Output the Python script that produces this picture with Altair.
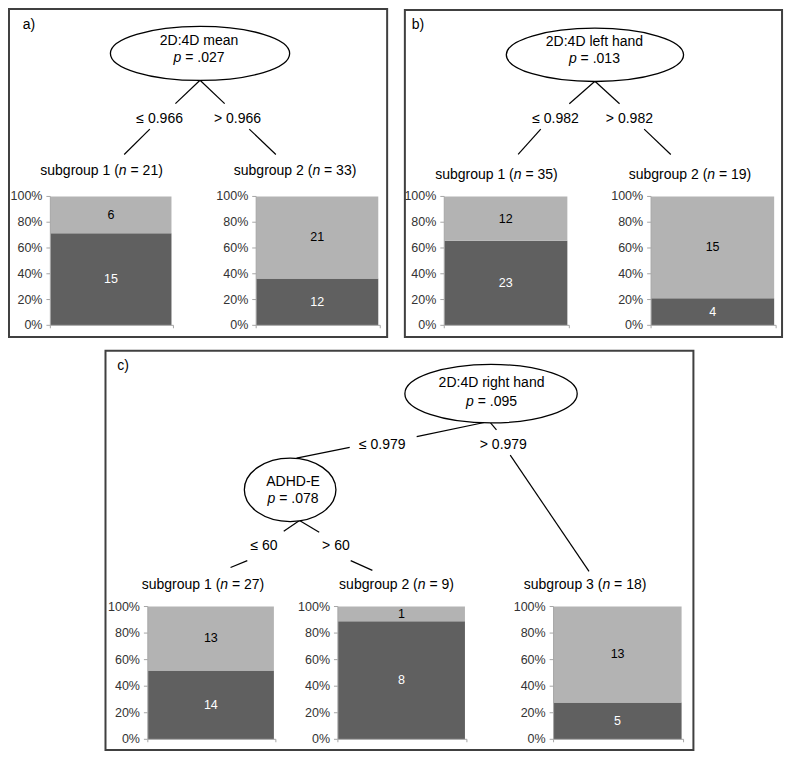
import altair as alt
import pandas as pd

# ---------------- data ----------------
panel_labels = ["a)", "b)", "c)"]

node_names = ["2D:4D mean", "2D:4D left hand", "2D:4D right hand", "ADHD-E"]
node_p_values = [".027", ".013", ".095", ".078"]

split_labels = ["≤ 0.966", "> 0.966", "≤ 0.982", "> 0.982",
                "≤ 0.979", "> 0.979", "≤ 60", "> 60"]

subgroup_names = ["subgroup 1", "subgroup 2", "subgroup 1", "subgroup 2",
                  "subgroup 1", "subgroup 2", "subgroup 3"]
subgroup_n = [21, 33, 35, 19, 27, 9, 18]
dark_counts = [15, 12, 23, 4, 14, 8, 5]
light_counts = [6, 21, 12, 15, 13, 1, 13]

tick_values = [0, 20, 40, 60, 80, 100]
tick_labels = ["0%", "20%", "40%", "60%", "80%", "100%"]

# ---------------- layout (figure pixel positions) ----------------
X_DOM = [2, 791]
Y_DOM = [2, 764]
W, H = 777, 744
SX = W / (X_DOM[1] - X_DOM[0])
SY = H / (Y_DOM[1] - Y_DOM[0])
FONT = "Liberation Sans"
FS = 14

panel_boxes = [(3, 3, 387, 339), (405, 4, 788, 339), (101, 353, 698, 762)]
panel_label_pos = [(17, 24), (412, 24), (113, 373)]

# ellipse centre/radii, text centre, baselines of the two text lines
node_layout = [
    (197, 48.5, 91, 27.7, 196, 40.3, 57.5),
    (598, 50, 90, 27.3, 597.5, 40.7, 58.3),
    (492.5, 397, 87.5, 30, 493, 390, 410),
    (288.5, 495.5, 46.5, 32.5, 291.5, 491.7, 509),
]
split_layout = [(156, 119.3), (235, 119.3), (558, 120), (633, 120),
                (382, 454), (505, 454), (262, 557), (335, 557)]
subgroup_layout = [(97, 172.7), (293.5, 172.7), (498, 177.5), (694.5, 177.5),
                   (200, 597), (396.5, 597), (588, 597)]
tree_lines = [
    (197, 76, 172, 100), (197, 76, 222, 100), (146, 126, 120, 152), (247, 126, 274, 152),
    (598, 77, 572, 100), (598, 77, 623, 100), (543, 126, 520, 152), (648, 126, 675, 152),
    (488, 426, 417, 441), (349, 452, 295, 463), (492, 427, 498, 434), (512, 460, 592, 579),
    (298, 527, 282, 538), (298, 527, 318, 539), (245, 568, 228, 575), (350, 568, 372, 578),
]
bar_layout = [  # axis x, width, top (100%), bottom (0%)
    (45, 123, 195, 327), (254, 124, 195, 327), (445, 125, 195, 327), (655, 125, 195, 327),
    (144, 128, 615, 751), (337, 129, 615, 751), (556, 130, 615, 751),
]

# ---------------- helpers ----------------
AW = {' ': 278, '(': 333, ')': 333, '.': 278, ':': 278, '=': 584, '>': 584, '≤': 549,
      '-': 333, 'a': 556, 'b': 556, 'd': 556, 'e': 556, 'f': 278, 'g': 556, 'h': 556,
      'i': 222, 'l': 222, 'm': 833, 'n': 556, 'o': 556, 'p': 556, 'r': 333, 's': 500,
      't': 278, 'u': 556, 'A': 667, 'D': 722, 'E': 667, 'H': 722}


def tw(s, fs=FS):
    return sum(AW.get(c, 556) for c in s) * fs / 1000 / SX


def rich(segments, cx, y):
    widths = [tw(t) for t, _ in segments]
    x = cx - sum(widths) / 2
    out = []
    for (t, it), w in zip(segments, widths):
        lead = len(t) - len(t.lstrip())
        out.append(dict(x=x + tw(t[:lead]), y=y, text=t.strip(), italic=it))
        x += w
    return out


def ellipse_path(k):
    c = 0.5523
    return (f"M -1 0 C -1 {-c*k:.4f} {-c:.4f} {-k:.4f} 0 {-k:.4f} "
            f"C {c:.4f} {-k:.4f} 1 {-c*k:.4f} 1 0 "
            f"C 1 {c*k:.4f} {c:.4f} {k:.4f} 0 {k:.4f} "
            f"C {-c:.4f} {k:.4f} -1 {c*k:.4f} -1 0 Z")


XS = alt.Scale(domain=X_DOM, nice=False, zero=False)
YS = alt.Scale(domain=Y_DOM, nice=False, zero=False, reverse=True)


def X(f):
    return alt.X(f"{f}:Q", scale=XS, axis=None)


def Y(f):
    return alt.Y(f"{f}:Q", scale=YS, axis=None)


# ---------------- tables ----------------
boxes_df = pd.DataFrame([dict(x=a, y=b, x2=c, y2=d) for a, b, c, d in panel_boxes])

texts = []
for lab, (x, y) in zip(panel_labels, panel_label_pos):
    texts.append(dict(x=x, y=y, text=lab, italic=False))
for name, p, (cx, cy, rx, ry, tx, b1, b2) in zip(node_names, node_p_values, node_layout):
    texts += rich([(name, False)], tx, b1)
    texts += rich([("p", True), (" = " + p, False)], tx, b2)
for lab, (cx, y) in zip(split_labels, split_layout):
    texts += rich([(lab, False)], cx, y)
for name, n, (cx, y) in zip(subgroup_names, subgroup_n, subgroup_layout):
    texts += rich([(name + " (", False), ("n", True), (f" = {n})", False)], cx, y)
texts_df = pd.DataFrame(texts)

nodes_df = pd.DataFrame([
    dict(x=cx, y=cy, path=ellipse_path((ry * SY) / (rx * SX)), size=(2 * rx * SX) ** 2)
    for cx, cy, rx, ry, *_ in node_layout
])

lines_df = pd.DataFrame([dict(x=a, y=b, x2=c, y2=d) for a, b, c, d in tree_lines])

bars = []
ticks = []
axis_segs = []
for i, (ax, w, top, bot) in enumerate(bar_layout):
    for cat, cnt, order in (("dark", dark_counts[i], 0), ("light", light_counts[i], 1)):
        bars.append(dict(gid=i, cat=cat, count=cnt, order=order,
                         ax=ax, ax2=ax + w, top=top, bot=bot))
    for tv, tl in zip(tick_values, tick_labels):
        ticks.append(dict(gid=i, ax=ax, top=top, bot=bot, v=tv, label=tl))
    axis_segs += [dict(x=ax, y=top, x2=ax, y2=bot),
                  dict(x=ax, y=bot, x2=ax + w + 2, y2=bot),
                  dict(x=ax, y=bot, x2=ax, y2=bot + 3),
                  dict(x=ax + w + 2, y=bot, x2=ax + w + 2, y2=bot + 3)]
bars_df = pd.DataFrame(bars)
ticks_df = pd.DataFrame(ticks)
axis_df = pd.DataFrame(axis_segs)

AXC = "#a6a6a6"

# ---------------- layers ----------------
boxes = alt.Chart(boxes_df).mark_rect(
    fill="white", stroke="#404040", strokeWidth=2
).encode(x=X("x"), x2="x2", y=Y("y"), y2="y2")

stacked = alt.Chart(bars_df).transform_stack(
    stack="count", groupby=["gid"], as_=["v0", "v1"], offset="normalize",
    sort=[alt.SortField(field="order", order="ascending")]
).transform_calculate(
    y0="datum.bot - datum.v0 * (datum.bot - datum.top)",
    y1="datum.bot - datum.v1 * (datum.bot - datum.top)",
    ym="(datum.y0 + datum.y1) / 2",
    xm="(datum.ax + datum.ax2) / 2",
)
rects = stacked.mark_rect().encode(
    x=X("ax"), x2="ax2", y=Y("y0"), y2="y1",
    color=alt.Color("cat:N", scale=alt.Scale(domain=["dark", "light"],
                                             range=["#606060", "#b3b3b3"]), legend=None),
)
counts = stacked.mark_text(font=FONT, fontSize=12.5, baseline="middle", align="center").encode(
    x=X("xm"), y=Y("ym"), text="count:Q",
    color=alt.condition("datum.cat == 'dark'", alt.value("white"), alt.value("black")),
)

axis_lines = alt.Chart(axis_df).mark_rule(color=AXC, strokeWidth=1).encode(
    x=X("x"), x2="x2", y=Y("y"), y2="y2")

tick_base = alt.Chart(ticks_df).transform_calculate(
    ty="datum.bot - datum.v / 100 * (datum.bot - datum.top)",
    tx0="datum.ax - 4",
    lx="datum.ax - 8",
)
tick_marks = tick_base.mark_rule(color=AXC, strokeWidth=1).encode(
    x=X("tx0"), x2="ax", y=Y("ty"))
tick_text = tick_base.mark_text(font=FONT, fontSize=12.5, align="right", baseline="middle",
                                color="#333333").encode(x=X("lx"), y=Y("ty"), text="label:N")

tree = alt.Chart(lines_df).mark_rule(color="black", strokeWidth=1.2).encode(
    x=X("x"), x2="x2", y=Y("y"), y2="y2")

nodes = alt.Chart(nodes_df).mark_point(
    filled=True, fill="white", stroke="black", strokeWidth=1.3, opacity=1
).encode(
    x=X("x"), y=Y("y"),
    shape=alt.Shape("path:N", scale=None),
    size=alt.Size("size:Q", scale=None),
)

text_normal = alt.Chart(texts_df).transform_filter("!datum.italic").mark_text(
    font=FONT, fontSize=FS, align="left", baseline="alphabetic", color="black"
).encode(x=X("x"), y=Y("y"), text="text:N")
text_italic = alt.Chart(texts_df).transform_filter("datum.italic").mark_text(
    font=FONT, fontSize=FS, fontStyle="italic", align="left", baseline="alphabetic", color="black"
).encode(x=X("x"), y=Y("y"), text="text:N")

chart = alt.layer(
    boxes, rects, axis_lines, tick_marks, tick_text, counts,
    tree, nodes, text_normal, text_italic
).properties(
    width=W, height=H, padding=0,
    autosize=alt.AutoSizeParams(type="none"),
    background="white",
).configure_view(stroke=None)

chart.save("out.html", embed_options={"renderer": "svg", "actions": False})
